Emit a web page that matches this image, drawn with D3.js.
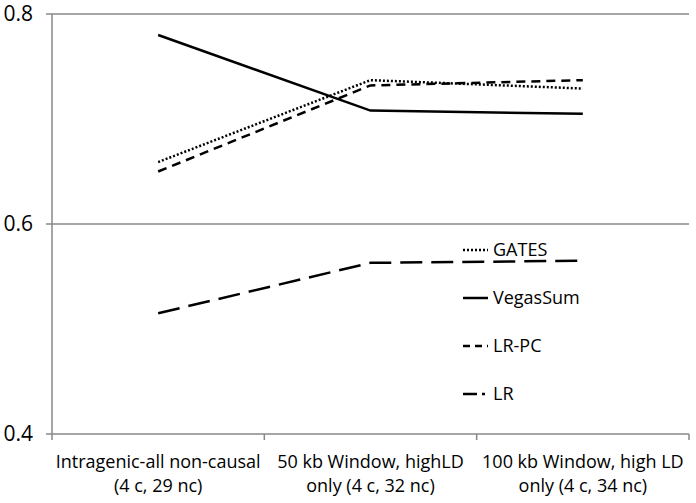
<!DOCTYPE html>
<html>
<head>
<meta charset="utf-8">
<script src="https://cdn.jsdelivr.net/npm/d3@7"></script>
<style>
  body { margin: 0; background: #fff; }
  text { font-family: "Open Sans", Lato, sans-serif; fill: #000; }
</style>
</head>
<body>
<div id="chart"></div>
<script>
// categories (two-line labels)
var categories = [
	["Intragenic-all non-causal", "(4 c, 29 nc)"],
	["50 kb Window, highLD", "only (4 c, 32 nc)"],
	["100 kb Window, high LD", "only (4 c, 34 nc)"]
];

var gates    = [0.659, 0.737, 0.729];
var vegasSum = [0.780, 0.708, 0.705];
var lrPc     = [0.650, 0.732, 0.737];
var lr       = [0.515, 0.563, 0.565];

var yTicks = [0.4, 0.6, 0.8];

var series = [
	{name: "GATES",    values: gates,    dash: "2,2"},
	{name: "VegasSum", values: vegasSum, dash: null},
	{name: "LR-PC",    values: lrPc,     dash: "9,6"},
	{name: "LR",       values: lr,       dash: "22,9"}
];

var width = 696, height = 503;
var margin = {top: 14, right: 7, bottom: 69, left: 52};

var svg = d3.select("#chart").append("svg")
	.attr("width", width)
	.attr("height", height);

var x = d3.scaleBand()
	.domain(d3.range(categories.length))
	.range([margin.left, width - margin.right]);

var y = d3.scaleLinear()
	.domain([0.4, 0.8])
	.range([height - margin.bottom, margin.top]);

// gridlines
svg.append("g").selectAll("line")
	.data(yTicks)
	.enter().append("line")
	.attr("x1", margin.left - 6)
	.attr("x2", width - margin.right)
	.attr("y1", function(d) { return y(d); })
	.attr("y2", function(d) { return y(d); })
	.style("stroke", "#888")
	.style("stroke-width", 1.5);

// y axis line
svg.append("line")
	.attr("x1", margin.left).attr("x2", margin.left)
	.attr("y1", y(0.8)).attr("y2", y(0.4))
	.style("stroke", "#888")
	.style("stroke-width", 1.5);

// y labels
svg.append("g").selectAll("text")
	.data(yTicks)
	.enter().append("text")
	.attr("x", 33)
	.attr("y", function(d) { return y(d); })
	.attr("dy", "0.35em")
	.attr("text-anchor", "end")
	.style("font-size", "21px")
	.text(function(d) { return d3.format(".1f")(d); });

// x tick marks at band edges
var edges = d3.range(categories.length + 1).map(function(i) {
	return margin.left + i * x.step();
});
svg.append("g").selectAll("line")
	.data(edges)
	.enter().append("line")
	.attr("x1", function(d) { return d; })
	.attr("x2", function(d) { return d; })
	.attr("y1", y(0.4))
	.attr("y2", y(0.4) + 6)
	.style("stroke", "#888")
	.style("stroke-width", 1.5);

// x labels
var xl = svg.append("g").selectAll("text")
	.data(categories)
	.enter().append("text")
	.attr("text-anchor", "middle")
	.style("font-size", "18px")
	.attr("transform", function(d, i) { return "translate(" + (x(i) + x.bandwidth() / 2) + ",468)"; });
xl.append("tspan").attr("x", 0).attr("y", 0).text(function(d) { return d[0]; });
xl.append("tspan").attr("x", 0).attr("y", 24).text(function(d) { return d[1]; });

// series lines
var line = d3.line()
	.x(function(d, i) { return x(i) + x.bandwidth() / 2; })
	.y(function(d) { return y(d); });

svg.append("g").selectAll("path")
	.data(series)
	.enter().append("path")
	.attr("d", function(d) { return line(d.values); })
	.style("fill", "none")
	.style("stroke", "#000")
	.style("stroke-width", 2.5)
	.style("stroke-dasharray", function(d) { return d.dash; });

// legend
var leg = svg.append("g").selectAll("g")
	.data(series)
	.enter().append("g")
	.attr("transform", function(d, i) { return "translate(463," + (250 + i * 48) + ")"; });
leg.append("line")
	.attr("x1", 0).attr("x2", 25)
	.style("stroke", "#000")
	.style("stroke-width", 2.5)
	.style("stroke-dasharray", function(d) {
		if (d.name == "LR") return "14,5,3,9";
		if (d.name == "LR-PC") return "7,5";
		return d.dash;
	});
leg.append("text")
	.attr("x", 30)
	.attr("dy", "0.35em")
	.style("font-size", "18px")
	.text(function(d) { return d.name; });
</script>
</body>
</html>
